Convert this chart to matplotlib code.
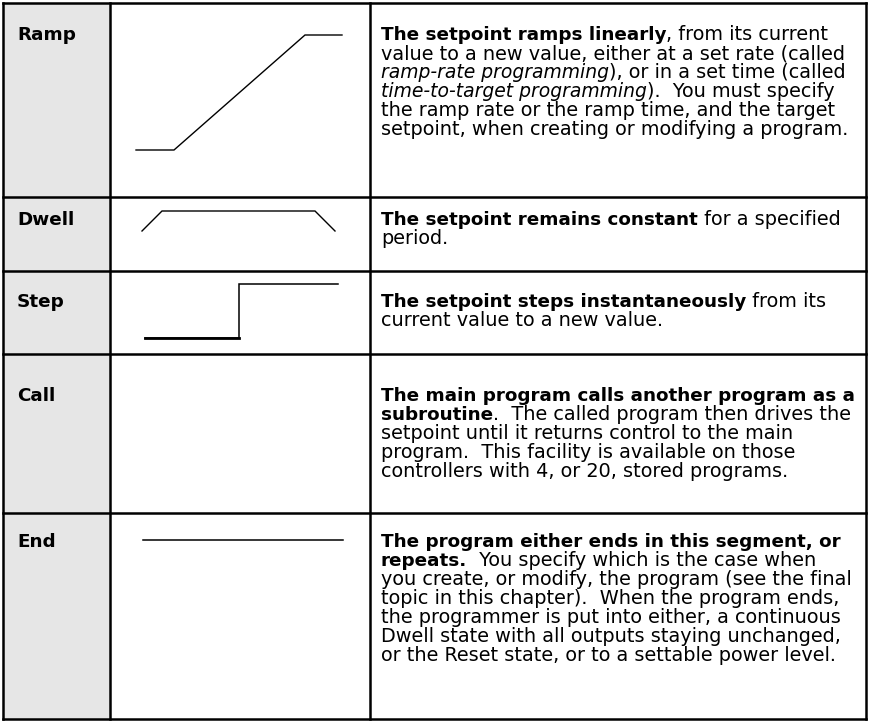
import matplotlib
matplotlib.use('Agg')
import matplotlib.pyplot as plt
from matplotlib.font_manager import FontProperties

W, H, DPI = 870, 722, 100
FONT = 'DejaVu Sans'
FS = 13.9      # regular
FS_I = 13.5    # italic runs
FS_B = 13.2    # bold runs (DejaVu bold is wide)
LINE_H = 19

# table grid, in pixels
col_x = [3, 110, 370, 866]
row_y = [3, 197, 271, 354, 513, 719]

labels = ['Ramp', 'Dwell', 'Step', 'Call', 'End']
baselines = [40, 225, 307, 401, 547]

# setpoint profile sketches
ramp_x = [136, 174, 305, 342]
ramp_y = [150, 150, 35, 35]
dwell_x = [142, 162, 315, 335]
dwell_y = [231, 211, 211, 231]
step_x = [145, 239, 239, 338]
step_y = [338, 338, 284, 284]
end_x = [143, 343]
end_y = [540, 540]

# description text, one list of (text, style) runs per line
# style: b = bold, i = italic, r = regular
ramp_text = [
    [('The setpoint ramps linearly', 'b'), (', from its current', 'r')],
    [('value to a new value, either at a set rate (called', 'r')],
    [('ramp-rate programming', 'i'), ('), or in a set time (called', 'r')],
    [('time-to-target programming', 'i'), (').  You must specify', 'r')],
    [('the ramp rate or the ramp time, and the target', 'r')],
    [('setpoint, when creating or modifying a program.', 'r')],
]
dwell_text = [
    [('The setpoint remains constant', 'b'), (' for a specified', 'r')],
    [('period.', 'r')],
]
step_text = [
    [('The setpoint steps instantaneously', 'b'), (' from its', 'r')],
    [('current value to a new value.', 'r')],
]
call_text = [
    [('The main program calls another program as a', 'b')],
    [('subroutine', 'b'), ('.  The called program then drives the', 'r')],
    [('setpoint until it returns control to the main', 'r')],
    [('program.  This facility is available on those', 'r')],
    [('controllers with 4, or 20, stored programs.', 'r')],
]
end_text = [
    [('The program either ends in this segment, or', 'b')],
    [('repeats.', 'b'), ('  You specify which is the case when', 'r')],
    [('you create, or modify, the program (see the final', 'r')],
    [('topic in this chapter).  When the program ends,', 'r')],
    [('the programmer is put into either, a continuous', 'r')],
    [('Dwell state with all outputs staying unchanged,', 'r')],
    [('or the Reset state, or to a settable power level.', 'r')],
]
descriptions = [ramp_text, dwell_text, step_text, call_text, end_text]

props = {
    'r': FontProperties(family=FONT, size=FS),
    'b': FontProperties(family=FONT, size=FS_B, weight='bold'),
    'i': FontProperties(family=FONT, size=FS_I, style='italic'),
}

fig = plt.figure(figsize=(W / DPI, H / DPI), dpi=DPI, facecolor='white')
ax = fig.add_axes([0, 0, 1, 1])
ax.set_xlim(0, W)
ax.set_ylim(H, 0)
ax.axis('off')
renderer = fig.canvas.get_renderer()


def run_width(s, fp):
    # width of s including trailing spaces: measure against a sentinel glyph
    w1, _, _ = renderer.get_text_width_height_descent(s + '|', fp, ismath=False)
    w2, _, _ = renderer.get_text_width_height_descent('|', fp, ismath=False)
    return w1 - w2


# label column shading
ax.fill_betweenx([row_y[0], row_y[-1]], col_x[0], col_x[1], color='#e6e6e6', lw=0)

# grid
ax.hlines(row_y, col_x[0], col_x[-1], color='black', lw=1.8, capstyle='projecting')
ax.vlines(col_x, row_y[0], row_y[-1], color='black', lw=1.8, capstyle='projecting')

# profiles
ax.plot(ramp_x, ramp_y, color='black', lw=1.0, solid_joinstyle='miter')
ax.plot(dwell_x, dwell_y, color='black', lw=1.0, solid_joinstyle='miter')
ax.plot(step_x, step_y, color='black', lw=1.1, solid_joinstyle='miter')
ax.plot(step_x[:2], step_y[:2], color='black', lw=2.0)
ax.plot(end_x, end_y, color='black', lw=1.1)

for label, base, desc in zip(labels, baselines, descriptions):
    ax.text(17, base, label, fontproperties=props['b'], va='baseline', ha='left')
    for k, line in enumerate(desc):
        x = 381
        y = base + k * LINE_H
        for s, st in line:
            ax.text(x, y, s, fontproperties=props[st], va='baseline', ha='left')
            x += run_width(s, props[st])

fig.savefig('out.png', dpi=DPI, facecolor='white')
